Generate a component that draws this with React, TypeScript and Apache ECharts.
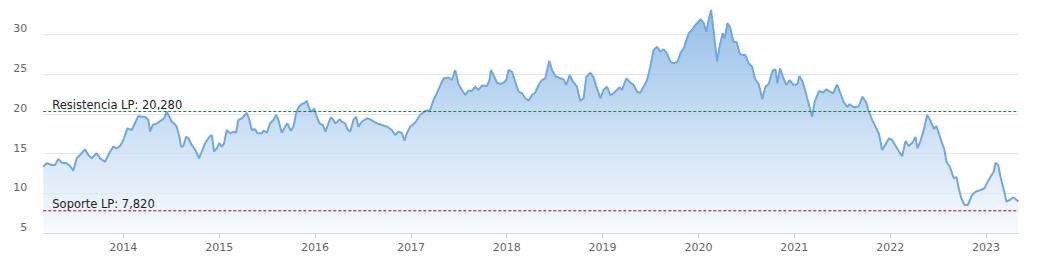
import React, { useEffect, useRef } from "react";
import * as echarts from "echarts";

// decimal-year positions of the weekly-ish closing prices
const dates = [
  2013.165, 2013.2, 2013.253, 2013.287, 2013.322, 2013.357, 2013.409, 2013.444, 2013.478, 2013.514,
  2013.548, 2013.6, 2013.635, 2013.67, 2013.722, 2013.757, 2013.809, 2013.861, 2013.896, 2013.931,
  2013.966, 2014.0, 2014.042, 2014.088, 2014.112, 2014.157, 2014.192, 2014.227, 2014.261, 2014.279,
  2014.307, 2014.349, 2014.401, 2014.425, 2014.453, 2014.48, 2014.505, 2014.529, 2014.557, 2014.585,
  2014.602, 2014.626, 2014.654, 2014.678, 2014.714, 2014.748, 2014.766, 2014.79, 2014.818, 2014.853,
  2014.898, 2014.923, 2014.947, 2014.975, 2015.002, 2015.027, 2015.051, 2015.079, 2015.114, 2015.148,
  2015.176, 2015.2, 2015.236, 2015.288, 2015.315, 2015.34, 2015.375, 2015.399, 2015.445, 2015.461,
  2015.497, 2015.531, 2015.566, 2015.594, 2015.618, 2015.653, 2015.688, 2015.712, 2015.747, 2015.775,
  2015.803, 2015.827, 2015.862, 2015.897, 2015.914, 2015.942, 2015.967, 2015.991, 2016.019, 2016.046,
  2016.081, 2016.109, 2016.14, 2016.165, 2016.186, 2016.21, 2016.234, 2016.255, 2016.28, 2016.314,
  2016.338, 2016.366, 2016.401, 2016.429, 2016.453, 2016.488, 2016.541, 2016.575, 2016.645, 2016.697,
  2016.749, 2016.802, 2016.836, 2016.871, 2016.906, 2016.933, 2016.958, 2016.993, 2017.045, 2017.097,
  2017.149, 2017.201, 2017.236, 2017.271, 2017.306, 2017.34, 2017.392, 2017.428, 2017.462, 2017.497,
  2017.532, 2017.567, 2017.601, 2017.636, 2017.671, 2017.706, 2017.741, 2017.793, 2017.82, 2017.835,
  2017.87, 2017.898, 2017.932, 2017.967, 2017.995, 2018.019, 2018.054, 2018.089, 2018.123, 2018.159,
  2018.193, 2018.228, 2018.263, 2018.297, 2018.332, 2018.367, 2018.402, 2018.444, 2018.472, 2018.506,
  2018.558, 2018.593, 2018.621, 2018.656, 2018.691, 2018.733, 2018.767, 2018.802, 2018.83, 2018.872,
  2018.906, 2018.942, 2018.976, 2019.01, 2019.046, 2019.08, 2019.115, 2019.15, 2019.177, 2019.203,
  2019.247, 2019.289, 2019.324, 2019.359, 2019.393, 2019.428, 2019.464, 2019.498, 2019.532, 2019.568,
  2019.602, 2019.637, 2019.672, 2019.707, 2019.741, 2019.783, 2019.811, 2019.846, 2019.898, 2019.933,
  2019.968, 2020.002, 2020.02, 2020.054, 2020.082, 2020.106, 2020.132, 2020.159, 2020.194, 2020.223,
  2020.253, 2020.273, 2020.302, 2020.329, 2020.365, 2020.399, 2020.429, 2020.455, 2020.49, 2020.524,
  2020.56, 2020.591, 2020.628, 2020.667, 2020.698, 2020.733, 2020.774, 2020.803, 2020.824, 2020.852,
  2020.886, 2020.918, 2020.952, 2020.991, 2021.032, 2021.053, 2021.087, 2021.121, 2021.158, 2021.186,
  2021.213, 2021.257, 2021.301, 2021.335, 2021.37, 2021.405, 2021.447, 2021.481, 2021.516, 2021.551,
  2021.578, 2021.62, 2021.672, 2021.711, 2021.747, 2021.779, 2021.812, 2021.847, 2021.883, 2021.917,
  2021.951, 2021.988, 2022.021, 2022.055, 2022.09, 2022.125, 2022.16, 2022.194, 2022.238, 2022.264,
  2022.285, 2022.316, 2022.351, 2022.386, 2022.421, 2022.455, 2022.483, 2022.507, 2022.543, 2022.567,
  2022.588, 2022.622, 2022.664, 2022.692, 2022.716, 2022.741, 2022.776, 2022.81, 2022.856, 2022.89,
  2022.943, 2022.984, 2023.012, 2023.047, 2023.081, 2023.099, 2023.127, 2023.151, 2023.186, 2023.214,
  2023.248, 2023.284, 2023.326, 2023.339,
];

const prices = [
  13.36, 13.78, 13.57, 13.57, 14.32, 13.86, 13.78, 13.44, 12.85, 14.41,
  14.82, 15.54, 14.82, 14.41, 15.04, 14.41, 13.98, 15.24, 15.87, 15.66,
  15.95, 16.71, 18.17, 17.96, 18.59, 19.72, 19.63, 19.63, 19.22, 17.75,
  18.59, 18.8, 19.22, 19.43, 20.26, 19.63, 19.0, 18.8, 18.38, 17.12,
  15.87, 15.95, 17.12, 16.92, 16.08, 15.54, 15.04, 14.41, 15.24, 16.29,
  17.12, 17.33, 15.24, 15.66, 16.29, 15.87, 16.29, 17.96, 17.55, 17.75,
  17.62, 19.22, 19.43, 20.13, 19.22, 17.96, 18.05, 17.55, 17.55, 17.87,
  17.62, 18.8, 19.22, 19.84, 19.22, 17.62, 18.38, 18.8, 17.87, 18.38,
  20.06, 20.81, 21.22, 21.39, 21.64, 20.56, 20.26, 20.68, 19.63, 18.8,
  18.59, 17.75, 18.8, 19.55, 19.3, 18.8, 19.0, 19.3, 19.0, 18.8,
  18.05, 17.75, 19.22, 19.63, 18.38, 19.0, 19.43, 19.3, 18.8, 18.59,
  18.38, 17.96, 17.33, 17.75, 17.55, 16.62, 17.55, 18.38, 18.9, 19.84,
  20.35, 20.47, 21.73, 22.6, 23.54, 24.42, 24.55, 24.23, 25.49, 23.73,
  22.98, 22.35, 22.92, 22.85, 23.39, 22.98, 23.54, 23.48, 24.23, 25.49,
  24.65, 23.9, 23.73, 23.9, 24.23, 25.49, 25.28, 24.02, 22.77, 22.57,
  21.94, 21.64, 22.35, 22.64, 23.61, 24.23, 24.45, 26.66, 25.49, 24.74,
  24.45, 24.32, 23.61, 24.86, 24.02, 23.39, 21.6, 21.94, 24.65, 25.15,
  24.57, 23.19, 21.94, 22.98, 23.39, 22.35, 22.57, 22.98, 23.32, 22.98,
  24.45, 23.9, 23.61, 22.77, 22.64, 23.39, 24.23, 25.9, 28.0, 28.41,
  27.79, 28.09, 27.58, 26.53, 26.33, 26.53, 27.58, 28.21, 30.09, 30.51,
  31.14, 31.55, 31.85, 31.42, 30.29, 31.76, 33.02, 30.32, 26.53, 28.63,
  30.09, 29.47, 31.39, 30.92, 29.04, 28.98, 27.58, 27.37, 27.37, 26.33,
  25.9, 24.36, 23.73, 21.81, 23.39, 23.73, 25.43, 25.55, 23.82, 25.7,
  24.45, 23.61, 24.23, 23.61, 23.71, 24.74, 24.02, 22.57, 20.88, 19.63,
  21.51, 22.85, 22.67, 23.07, 22.77, 22.57, 23.67, 22.57, 21.47, 20.88,
  21.19, 20.81, 20.91, 22.14, 21.51, 20.26, 19.22, 18.38, 17.46, 15.45,
  16.14, 16.92, 16.71, 16.02, 15.33, 14.66, 16.58, 15.95, 16.46, 17.08,
  15.66, 16.58, 17.96, 19.84, 19.15, 18.09, 18.46, 17.55, 16.29, 15.45,
  13.95, 13.36, 11.9, 12.06, 10.65, 9.43, 8.55, 8.55, 9.81, 10.22,
  10.43, 10.65, 11.35, 12.1, 12.73, 13.86, 13.57, 12.1, 10.43, 8.96,
  9.18, 9.52, 9.12, 8.99,
];

const yearTicks = [2014, 2015, 2016, 2017, 2018, 2019, 2020, 2021, 2022, 2023];
const yTickMax = 30; // highest labelled value on the price axis

const resistance = 20.28;
const support = 7.82;

const fmt = (v: number) => v.toFixed(3).replace(".", ",");

// horizontal dashed level spanning the whole date range, labelled at its start
const levelSeries = (value: number, text: string, color: string) => {
  const x0 = dates[0];
  const x1 = dates[dates.length - 1];
  return {
    type: "line",
    silent: true,
    z: 5,
    showSymbol: true,
    symbol: "circle",
    symbolSize: 0,
    lineStyle: { color, type: [3, 2], width: 1 },
    itemStyle: { color },
    data: [
      {
        value: [x0, value],
        label: {
          show: true,
          position: [9, -12.5],
          align: "left",
          verticalAlign: "top",
          formatter: text,
          color: "#222222",
          fontSize: 11.5,
          fontFamily: "DejaVu Sans",
        },
      },
      { value: [x1, value], label: { show: false } },
    ],
  };
};

export default function App() {
  const ref = useRef<HTMLDivElement>(null);

  useEffect(() => {
    if (!ref.current) return;
    const chart = echarts.init(ref.current, null, { renderer: "svg" });
    const seriesData = dates.map((d, i) => [d, prices[i]]);

    chart.setOption({
      animation: false,
      backgroundColor: "#ffffff",
      textStyle: { fontFamily: "DejaVu Sans" },
      grid: {
        left: 43.3,
        right: 18.5,
        top: -5.8,
        bottom: 31.7,
        containLabel: false,
        outerBoundsMode: "none",
      },
      xAxis: {
        type: "value",
        min: "dataMin",
        max: "dataMax",
        splitLine: { show: false },
        axisLine: { lineStyle: { color: "#ccd6eb", width: 1 } },
        axisTick: {
          show: true,
          length: 5,
          customValues: yearTicks,
          lineStyle: { color: "#ccd6eb" },
        },
        axisLabel: {
          customValues: yearTicks,
          formatter: (v: number) => String(Math.round(v)),
          color: "#666666",
          fontSize: 11,
          margin: 9,
          fontFamily: "DejaVu Sans",
        },
      },
      yAxis: {
        type: "value",
        min: 5,
        max: 35,
        interval: 5,
        axisLine: { show: false },
        axisTick: { show: false },
        splitLine: { lineStyle: { color: "#e6e6e6", width: 1 } },
        axisLabel: {
          color: "#666666",
          fontSize: 11,
          margin: 16,
          verticalAlign: "bottom",
          fontFamily: "DejaVu Sans",
          formatter: (v: number) => (v > yTickMax ? "" : String(v)),
        },
      },
      series: [
        {
          type: "line",
          data: seriesData,
          showSymbol: false,
          symbol: "none",
          smooth: false,
          lineStyle: { color: "#72a8de", width: 2 },
          itemStyle: { color: "#72a8de" },
          areaStyle: {
            color: new echarts.graphic.LinearGradient(0, 0, 0, 1, [
              { offset: 0, color: "rgba(104,163,222,1)" },
              { offset: 0.5, color: "rgba(178,208,239,1)" },
              { offset: 1, color: "rgba(246,249,253,1)" },
            ]),
          },
        },
        levelSeries(resistance, "Resistencia LP: " + fmt(resistance), "#1a7f31"),
        levelSeries(support, "Soporte LP: " + fmt(support), "#8e0c22"),
      ],
    });

    return () => chart.dispose();
  }, []);

  return (
    <div
      ref={ref}
      style={{ position: "fixed", left: 0, top: 0, width: 1037, height: 265 }}
    />
  );
}
